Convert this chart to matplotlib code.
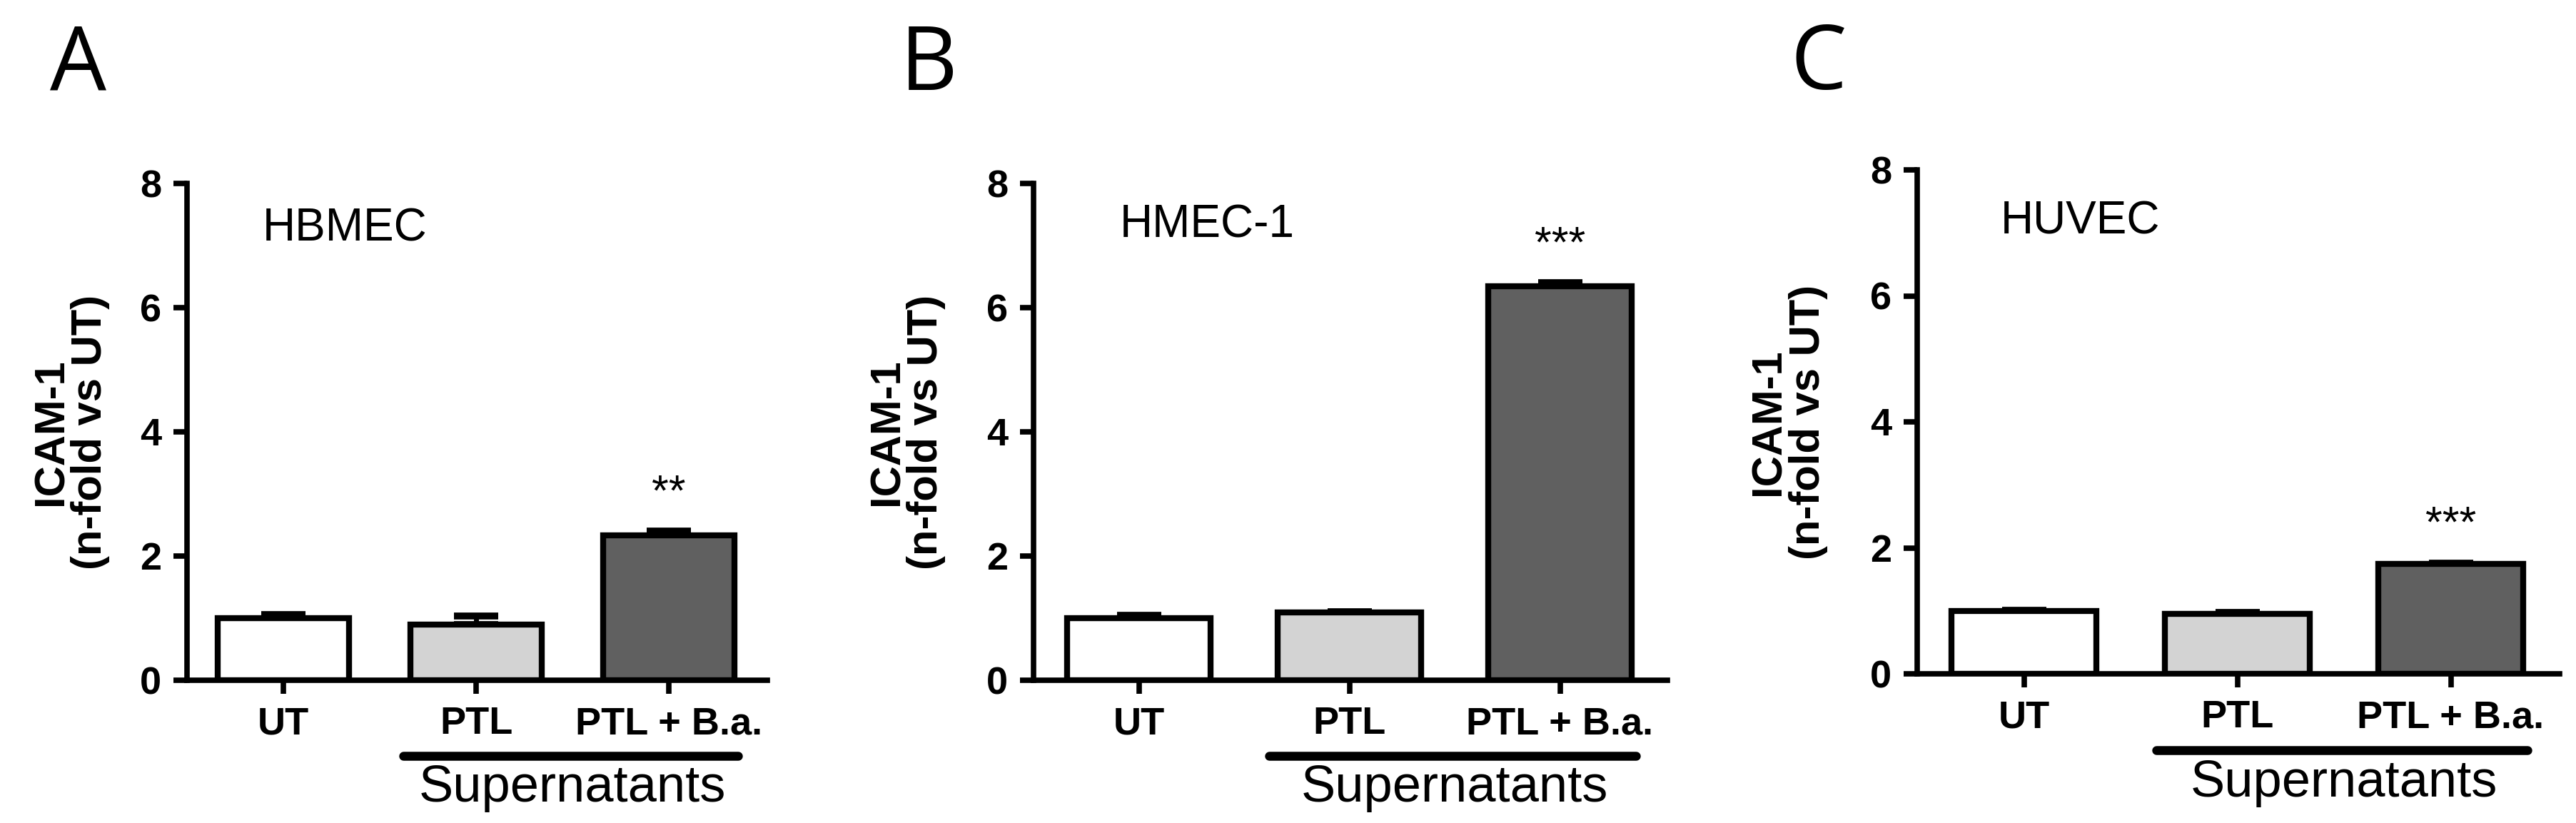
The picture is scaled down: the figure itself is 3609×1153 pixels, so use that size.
import matplotlib
matplotlib.use("Agg")
import matplotlib.pyplot as plt
import matplotlib.transforms as mtrans

plt.rcParams['font.family'] = ['Liberation Sans', 'DejaVu Sans']

categories = ["UT", "PTL", "PTL + B.a."]
cell_lines = ["HBMEC", "HMEC-1", "HUVEC"]
panel_letters = ["A", "B", "C"]
means_A = [1.0, 0.90, 2.33]
errs_A = [0.06, 0.13, 0.07]
means_B = [1.0, 1.09, 6.34]
errs_B = [0.05, 0.01, 0.06]
means_C = [1.0, 0.95, 1.74]
errs_C = [0.01, 0.03, 0.02]
stars = ["**", "***", "***"]
yticks = [0, 2, 4, 6, 8]
colors = ["white", "#d3d3d3", "#606060"]

means = [means_A, means_B, means_C]
errs = [errs_A, errs_B, errs_C]

fig = plt.figure(figsize=(36.09, 11.53), dpi=100)
W, H = 3609, 1153
boxes = [(262, 1075, 257, 953), (1448, 2336, 257, 953), (2686, 3586, 238, 944)]
letter_x = [70, 1261, 2508]
label_pos = [(-0.11, 7.27), (-0.09, 7.33), (-0.11, 7.18)]

for i in range(3):
    l, r, t, b = boxes[i]
    ax = fig.add_axes([l / W, 1 - b / H, (r - l) / W, (b - t) / H])
    x = list(range(len(categories)))
    ax.errorbar(x, means[i], yerr=[[0]*3, errs[i]], fmt='none', ecolor='black',
                elinewidth=5, capsize=22, capthick=7, zorder=2)
    ax.bar(x, means[i], width=0.68, color=colors, edgecolor='black', linewidth=6, zorder=3)
    ax.set_xlim(-0.5, 2.51)
    ax.set_ylim(0, 8)
    ax.set_yticks(yticks)
    ax.set_xticks(x)
    ax.set_xticklabels(categories)
    for s in ['top', 'right']:
        ax.spines[s].set_visible(False)
    for s in ['left', 'bottom']:
        ax.spines[s].set_linewidth(5.5)
    ax.tick_params(width=5.5, length=14, labelsize=39, pad=12)
    for lab in ax.get_xticklabels() + ax.get_yticklabels():
        lab.set_fontweight('bold')
    ax.text(label_pos[i][0], label_pos[i][1], cell_lines[i], fontsize=46, va='center', ha='left')
    ax.text(2, means[i][2] + errs[i][2] + 0.6, stars[i], fontsize=44, ha='center', va='center')
    ax.text(-0.2, 0.5, "ICAM-1\n(n-fold vs UT)", transform=ax.transAxes, rotation=90,
            ha='center', va='center', fontsize=43, fontweight='bold', multialignment='center',
            linespacing=1.0)
    tr = mtrans.blended_transform_factory(ax.transData, ax.transAxes)
    ax.plot([0.62, 2.36], [-0.152, -0.152], transform=tr, color='black', lw=9,
            solid_capstyle='round', clip_on=False)
    ax.text(1.5, -0.218, "Supernatants", transform=tr, ha='center', va='center', fontsize=52)
    fig.text(letter_x[i] / W, 1 - 93 / H, panel_letters[i], fontsize=90,
             family=['Open Sans', 'DejaVu Sans'], ha='left', va='center')

fig.savefig("out.png", dpi=100, facecolor='white')
